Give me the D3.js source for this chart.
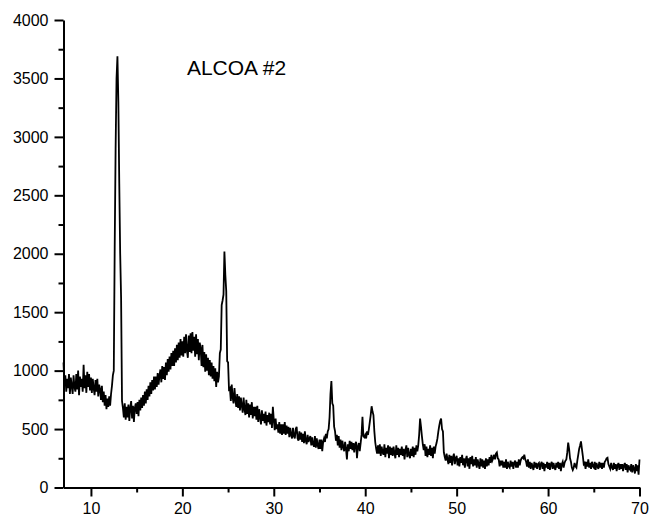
<!DOCTYPE html>
<html>
<head>
<meta charset="utf-8">
<script src="https://cdn.jsdelivr.net/npm/d3@7"></script>
<style>
  html, body { margin: 0; padding: 0; background: #fff; }
  svg { display: block; font-family: "Liberation Sans", Arial, sans-serif; }
</style>
</head>
<body>
<svg id="chart" width="649" height="520"></svg>
<script>
// XRD scan: 2-theta from 7 to 70 degrees, 0.1 degree step
const twoThetaStart = 7.0;
const twoThetaStep = 0.1;

// Intensity (counts), one row per degree
const counts = [
  1070, 880, 960, 820, 930, 850, 970, 800, 940, 870,        // 7
  800, 960, 860, 820, 970, 840, 1000, 790, 950, 860,        // 8
  930, 820, 1050, 850, 960, 810, 990, 860, 970, 830,        // 9
  940, 810, 930, 850, 790, 920, 820, 930, 780, 880,         // 10
  840, 750, 870, 730, 820, 700, 790, 670, 760, 690,         // 11
  780, 700, 800, 870, 960, 1000, 2050, 2900, 3500, 3690,    // 12
  3300, 2600, 2000, 1620, 740, 680, 600, 720, 580, 690,     // 13
  600, 710, 570, 680, 740, 590, 700, 560, 680, 720,         // 14
  630, 730, 610, 750, 660, 770, 680, 790, 700, 820,         // 15
  720, 840, 750, 870, 780, 900, 800, 920, 830, 950,         // 16
  840, 950, 860, 980, 880, 960, 1010, 900, 1040, 930,       // 17
  1030, 920, 1070, 960, 1100, 990, 1120, 1010, 1150, 1040,  // 18
  1170, 1040, 1190, 1070, 1220, 1090, 1240, 1110, 1270, 1130, // 19
  1250, 1120, 1290, 1150, 1310, 1170, 1110, 1300, 1160, 1320, // 20
  1150, 1330, 1170, 1290, 1120, 1310, 1140, 1270, 1090, 1240, // 21
  1190, 1040, 1220, 1030, 1160, 990, 1140, 1000, 1110, 960, // 22
  1090, 950, 1070, 930, 1040, 910, 1020, 860, 990, 900,     // 23
  950, 1150, 1180, 1560, 1600, 1650, 2020, 1820, 1680, 1080, // 24
  1070, 840, 850, 740, 880, 770, 720, 850, 750, 690,        // 25
  800, 680, 780, 660, 770, 700, 640, 770, 670, 620,         // 26
  750, 630, 720, 600, 710, 620, 730, 590, 690, 610,         // 27
  690, 580, 700, 560, 670, 600, 540, 660, 570, 630,         // 28
  550, 650, 530, 620, 560, 640, 540, 630, 510, 690,         // 29
  580, 490, 590, 500, 540, 470, 560, 460, 540, 450,         // 30
  540, 460, 560, 450, 530, 460, 520, 430, 510, 450,         // 31
  420, 510, 440, 420, 500, 520, 420, 400, 480, 410,         // 32
  470, 390, 460, 380, 480, 400, 370, 450, 390, 420,         // 33
  440, 360, 430, 370, 350, 440, 340, 420, 360, 330,         // 34
  410, 330, 410, 310, 390, 420, 390, 460, 420, 480,         // 35
  500, 600, 800, 910, 720, 700, 520, 480, 400, 450,         // 36
  360, 440, 340, 410, 320, 400, 350, 310, 390, 330,         // 37
  240, 370, 310, 400, 330, 390, 320, 380, 300, 370,         // 38
  390, 250, 350, 380, 310, 380, 450, 605, 440, 430,         // 39
  450, 420, 480, 450, 500, 560, 620, 695, 650, 620,         // 40
  480, 385, 330, 290, 360, 290, 370, 270, 350, 300,         // 41
  280, 370, 260, 340, 290, 360, 250, 350, 280, 340,         // 42
  270, 350, 290, 250, 360, 280, 340, 260, 330, 280,         // 43
  350, 270, 330, 240, 320, 360, 260, 340, 280, 250,         // 44
  330, 270, 350, 260, 340, 280, 360, 310, 360, 450,         // 45
  590, 520, 440, 370, 320, 370, 270, 350, 260, 330,         // 46
  280, 360, 270, 340, 250, 350, 290, 350, 380, 420,         // 47
  480, 530, 570, 590, 500, 480, 300, 260, 230, 290,         // 48
  240, 200, 280, 210, 270, 190, 260, 290, 200, 250,         // 49
  270, 190, 250, 180, 260, 210, 280, 190, 250, 170,         // 50
  240, 270, 180, 250, 160, 260, 200, 270, 180, 240,         // 51
  190, 260, 170, 240, 200, 160, 250, 180, 240, 170,         // 52
  230, 160, 250, 180, 240, 190, 260, 210, 280, 230,         // 53
  250, 280, 240, 290, 300, 250, 240, 180, 230, 190,         // 54
  230, 170, 220, 170, 240, 160, 220, 180, 170, 230,         // 55
  180, 220, 160, 210, 230, 170, 220, 170, 240, 190,         // 56
  230, 250, 260, 250, 280, 240, 220, 180, 240, 170,         // 57
  220, 160, 210, 180, 150, 220, 170, 210, 160, 200,         // 58
  210, 150, 200, 220, 160, 210, 140, 200, 170, 220,         // 59
  160, 210, 150, 200, 220, 160, 210, 170, 150, 210,         // 60
  170, 220, 160, 210, 140, 200, 220, 170, 210, 230,         // 61
  240, 300, 385, 330, 250, 220, 170, 150, 170, 210,         // 62
  180, 170, 230, 280, 330, 360, 395, 330, 270, 200,         // 63
  210, 160, 220, 180, 240, 170, 210, 160, 220, 180,         // 64
  170, 220, 150, 210, 180, 160, 220, 170, 210, 160,         // 65
  210, 170, 220, 230, 250, 255, 200, 180, 160, 210,         // 66
  170, 150, 210, 160, 200, 140, 190, 210, 150, 200,         // 67
  160, 200, 140, 190, 210, 150, 200, 130, 190, 160,         // 68
  150, 200, 130, 190, 160, 120, 200, 140, 190, 110,         // 69
  240                                                       // 70
];

const xTicks = [10, 20, 30, 40, 50, 60, 70];
const xMinorTicks = [15, 25, 35, 45, 55, 65];
const yTicks = [0, 500, 1000, 1500, 2000, 2500, 3000, 3500, 4000];
const yMinorTicks = [250, 750, 1250, 1750, 2250, 2750, 3250, 3750];
const sampleLabel = "ALCOA #2";

const svg = d3.select("#chart");

const x = d3.scaleLinear().domain([7, 70]).range([63.5, 639.5]);
const y = d3.scaleLinear().domain([0, 4000]).range([487.5, 20]);

const points = counts.map((c, i) => [twoThetaStart + i * twoThetaStep, c]);

// pattern trace
svg.append("path")
  .datum(points)
  .attr("fill", "none")
  .attr("stroke", "#000")
  .attr("stroke-width", 1.8)
  .attr("stroke-linejoin", "miter")
  .attr("d", d3.line().x(d => x(d[0])).y(d => y(d[1])));

function styleAxis(g) {
  g.selectAll(".domain").attr("stroke", "#000").attr("stroke-width", 2);
  g.selectAll(".tick line").attr("stroke", "#000").attr("stroke-width", 2);
  g.selectAll(".tick text")
    .attr("fill", "#000")
    .style("font-size", "16px")
    .style("font-family", "'Liberation Sans', Arial, sans-serif");
}

// bottom axis: minor then major ticks
svg.append("g")
  .attr("transform", "translate(0,487.5)")
  .call(d3.axisBottom(x).tickValues(xMinorTicks).tickSize(5).tickSizeOuter(0).tickFormat(""))
  .call(g => g.select(".domain").remove())
  .call(styleAxis);

svg.append("g")
  .attr("transform", "translate(0,487.5)")
  .call(d3.axisBottom(x).tickValues(xTicks).tickSize(9).tickSizeOuter(0).tickPadding(6).tickFormat(d3.format("d")))
  .call(styleAxis);

// left axis: minor then major ticks
svg.append("g")
  .attr("transform", "translate(63.5,0)")
  .call(d3.axisLeft(y).tickValues(yMinorTicks).tickSize(5).tickSizeOuter(0).tickFormat(""))
  .call(g => g.select(".domain").remove())
  .call(styleAxis);

svg.append("g")
  .attr("transform", "translate(63.5,0)")
  .call(d3.axisLeft(y).tickValues(yTicks).tickSize(9).tickSizeOuter(0).tickPadding(6).tickFormat(d3.format("d")))
  .call(styleAxis);

// sample label
svg.append("text")
  .attr("x", x(20.5))
  .attr("y", y(3530))
  .attr("fill", "#000")
  .style("font-size", "21px")
  .text(sampleLabel);
</script>
</body>
</html>
